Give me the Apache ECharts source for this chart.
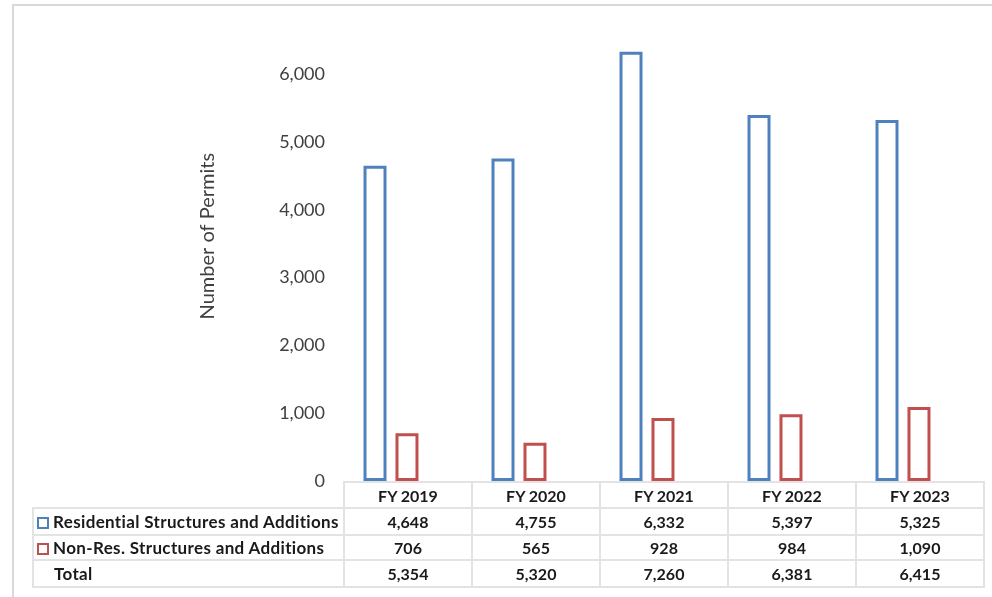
<!DOCTYPE html>
<html>
<head>
<meta charset="utf-8">
<script src="https://cdn.jsdelivr.net/npm/echarts@6/dist/echarts.min.js"></script>
<style>
  html, body { margin: 0; padding: 0; background: #fff; }
  #wrap { position: relative; width: 992px; height: 597px; overflow: hidden; }
  #frame { position: absolute; left: 12px; top: 4px; width: 990px; height: 600px;
           border-left: 2px solid #d9d9d9; border-top: 2px solid #d9d9d9; box-sizing: border-box; }
  #chart { position: absolute; left: 0; top: 0; width: 992px; height: 597px; }
  #tbl { position: absolute; left: 32px; top: 481px; border-collapse: collapse; table-layout: fixed;
         font-family: "Century Gothic", Lato, "DejaVu Sans", sans-serif; font-weight: bold;
         font-size: 16px; color: #1a1a1a; }
  #tbl td { border: 2px solid #e3e3e3; padding: 0; text-align: center; box-sizing: border-box; overflow: hidden; }
  #tbl td.lbl { text-align: left; width: 311px; padding-left: 3px; white-space: nowrap;
                font-size: 17px; letter-spacing: 0.35px; }
  #tbl td.col { width: 128px; }
  #tbl td.blank { border: none; }
  .sq { display: inline-block; width: 8px; height: 8px; border: 2.5px solid; margin-right: 4px;
        vertical-align: -1px; }
  .sp { display: inline-block; width: 17px; }
</style>
</head>
<body>
<div id="wrap">
  <div id="frame"></div>
  <div id="chart"></div>
  <table id="tbl"></table>
</div>
<script>
const categories = ['FY 2019', 'FY 2020', 'FY 2021', 'FY 2022', 'FY 2023'];
const residential = [4648, 4755, 6332, 5397, 5325];
const nonResidential = [706, 565, 928, 984, 1090];
const totals = [5354, 5320, 7260, 6381, 6415];
const seriesNames = ['Residential Structures and Additions', 'Non-Res. Structures and Additions'];
const colors = ['#4f81bd', '#c0504d'];

const fmt = v => v.toLocaleString('en-US');

const chart = echarts.init(document.getElementById('chart'));
chart.setOption({
  animation: false,
  grid: { left: 327, right: 25, top: 6.4, bottom: 116, containLabel: false },
  xAxis: {
    type: 'category', data: categories,
    axisLine: { show: false }, axisTick: { show: false }, axisLabel: { show: false }
  },
  yAxis: {
    type: 'value', min: 0, max: 7000, interval: 1000,
    name: 'Number of Permits', nameLocation: 'middle', nameGap: 109,
    nameTextStyle: { fontFamily: '"Century Gothic", Lato, sans-serif', fontSize: 20, color: '#404040',
                     padding: [0, 0, 0, 15] },
    axisLine: { show: false }, axisTick: { show: false }, splitLine: { show: false },
    axisLabel: {
      showMaxLabel: false, margin: 2, fontFamily: '"Century Gothic", Lato, sans-serif',
      fontSize: 18, color: '#404040', formatter: v => fmt(v)
    }
  },
  series: [
    { name: seriesNames[0], type: 'bar', data: residential, barWidth: 23, barGap: '39%',
      itemStyle: { color: 'rgba(255,255,255,0)', borderColor: colors[0], borderWidth: 3 } },
    { name: seriesNames[1], type: 'bar', data: nonResidential, barWidth: 23,
      itemStyle: { color: 'rgba(255,255,255,0)', borderColor: colors[1], borderWidth: 3 } }
  ]
});

// data table
const tbl = document.getElementById('tbl');
const rowHeights = [26, 27, 25, 27];
let html = '<tr style="height:' + rowHeights[0] + 'px"><td class="blank lbl"></td>' +
  categories.map(c => '<td class="col">' + c + '</td>').join('') + '</tr>';
const rows = [
  { label: seriesNames[0], color: colors[0], vals: residential },
  { label: seriesNames[1], color: colors[1], vals: nonResidential },
  { label: 'Total', color: null, vals: totals }
];
rows.forEach((r, i) => {
  const mark = r.color ? '<span class="sq" style="border-color:' + r.color + '"></span>' : '<span class="sp"></span>';
  html += '<tr style="height:' + rowHeights[i + 1] + 'px"><td class="lbl">' + mark + r.label + '</td>' +
    r.vals.map(v => '<td class="col">' + fmt(v) + '</td>').join('') + '</tr>';
});
tbl.innerHTML = html;
</script>
</body>
</html>
